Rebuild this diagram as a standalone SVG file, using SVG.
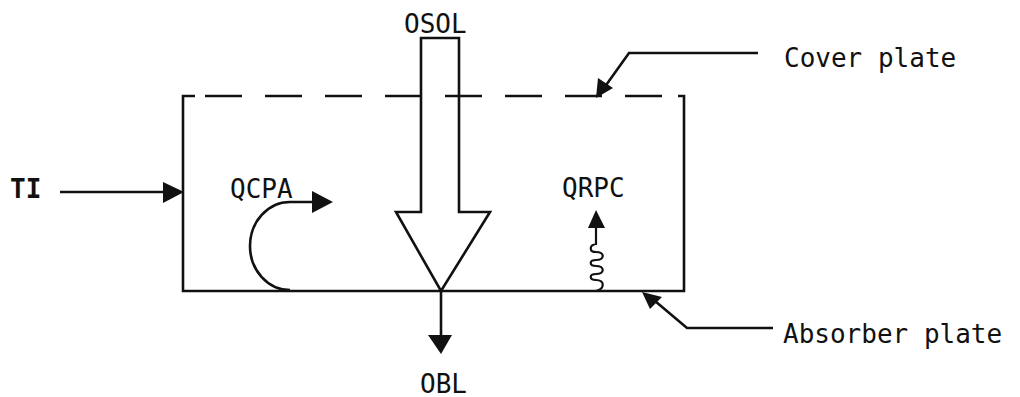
<svg xmlns="http://www.w3.org/2000/svg" width="1020" height="397" viewBox="0 0 1020 397">
<style>
.ln{fill:none;stroke:#111;stroke-width:2.6;stroke-linecap:butt;stroke-linejoin:miter}
.th{fill:none;stroke:#111;stroke-width:2.2}
.hd{fill:#111;stroke:none}
.t{font-family:"DejaVu Sans Mono","Liberation Mono",monospace;fill:#111;font-size:26px}
</style>
<rect width="1020" height="397" fill="#fff"/>
<g id="box">
<path class="ln" d="M195 96 H183 V291 H684 V96 H678"/>
<path class="ln" d="M205 96 H663" stroke-dasharray="37 23"/>
</g>
<g id="qsol">
<path class="ln" d="M421 212 V38 H459 V212 H490 L441 291 L396 212 Z"/>
<text class="t" x="404" y="33">OSOL</text>
</g>
<g id="qbl">
<text class="t" x="420" y="393">OBL</text>
</g>
<g id="ti">
<text class="t" x="10" y="198" font-weight="bold">TI</text>
</g>
<g id="qcpa">
<text class="t" x="230" y="198">QCPA</text>
</g>
<g id="qrpc">
<text class="t" x="562" y="197">QRPC</text>
</g>
<g id="coverplate">
<text class="t" x="784" y="67" font-size="27">Cover plate</text>
</g>
<g id="absorberplate">
<text class="t" x="783" y="343" font-size="27">Absorber plate</text>
</g>
<g id="connectors">
<path class="ln" d="M60 192 H166"/>
<path class="hd" d="M163 182 L184 192 L163 203 Z"/>
<path class="ln" d="M290 290 A40 44 0 0 1 290 202 H315"/>
<path class="hd" d="M312 191 L333 202 L312 213 Z"/>
<path class="th" d="M596 226 V244 C589 245 589 252 596 252 C605 252 605 260 596 260 C589 260 589 266 596 266 C605 266 605 274 596 274 C589 274 589 280 596 280 C605 280 605 289 596 291"/>
<path class="hd" d="M588 228 L596 210 L605 228 Z"/>
<path class="ln" d="M441 291 V338"/>
<path class="hd" d="M428 335 L452 335 L441 354 Z"/>
<path class="ln" d="M758 53 H629 L604 88"/>
<path class="hd" d="M596 98 L598 78 L613 88 Z"/>
<path class="ln" d="M773 328 H687 L655 301"/>
<path class="hd" d="M642 292 L662 297 L650 309 Z"/>
</g>
</svg>
